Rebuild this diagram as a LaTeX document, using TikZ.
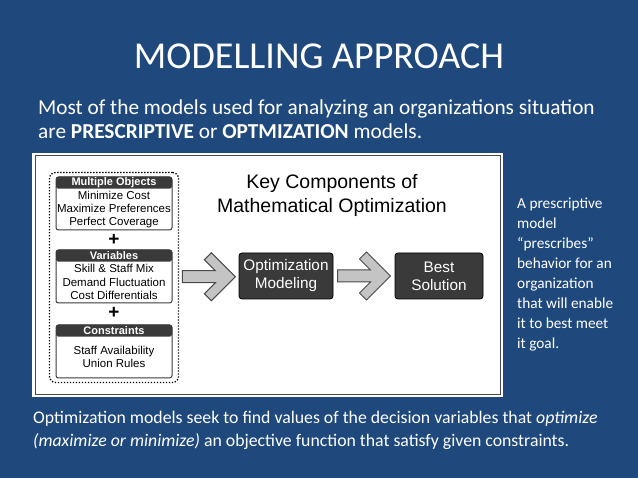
\documentclass[tikz,border=0pt]{standalone}
\usepackage{fontspec}
\setmainfont{Carlito}
\newfontfamily\figfont{Liberation Sans}
\usetikzlibrary{positioning,calc,fit}
\definecolor{slideblue}{HTML}{1F497D}
\definecolor{boxgrey}{HTML}{3A3A3A}
\definecolor{arrowgrey}{HTML}{C4C4C4}
\definecolor{edgegrey}{HTML}{4A4A4A}

\begin{document}
\begin{tikzpicture}[x=1pt, y=-1pt,
  slidetext/.style={text=white, inner sep=0pt, align=left},
  group/.style={rectangle, draw=boxgrey, line width=1pt, rounded corners=2.5pt,
                fill=white, minimum width=116pt, minimum height=53pt, inner sep=0pt},
  grouphead/.style={rectangle, fill=boxgrey, rounded corners=2.5pt,
                    minimum width=116pt, minimum height=12pt, inner sep=0pt,
                    text=white, font=\figfont\bfseries\fontsize{11}{11}\selectfont},
  item/.style={font=\figfont\fontsize{11.5}{13.3}\selectfont, align=center, inner sep=0pt},
  plus/.style={font=\figfont\bfseries\fontsize{19}{19}\selectfont, inner sep=0pt},
  stage/.style={rectangle, fill=boxgrey, draw=black, line width=0.8pt, rounded corners=3pt,
                minimum height=46pt, inner sep=0pt, text=white, align=center,
                font=\figfont\fontsize{15.3}{18}\selectfont},
  chevron/.pic={
    \draw[edgegrey, fill=arrowgrey, line width=1pt, line join=miter]
      (-26.5,-6) -- (6.5,-6) -- (-4.5,-17) -- (2.5,-24) -- (26.5,0)
      -- (2.5,24) -- (-4.5,17) -- (6.5,6) -- (-26.5,6) -- cycle;
  },
]
  % slide
  \fill[slideblue] (0,0) rectangle (638,478);
  \useasboundingbox (0,0) rectangle (638,478);

  \node[slidetext, font=\fontsize{38}{38}\selectfont] (title) at (319,56) {MODELLING APPROACH};
  \node[slidetext, anchor=north west, font=\fontsize{21.3}{24}\selectfont] (intro) at (38,100)
    {Most of the models used for analyzing an organizations situation\\
     are \textbf{PRESCRIPTIVE} or \textbf{OPTMIZATION} models.};

  % picture panel
  \node[rectangle, fill=white, minimum width=471pt, minimum height=244pt, inner sep=0pt,
        anchor=north west] (panel) at (32,153) {};
  \draw[edgegrey, line width=1pt] ([shift={(3,3)}]panel.north west)
    rectangle ([shift={(-3,-3)}]panel.south east);

  % the three groups
  \node[group] (objs) at (114,203.5) {};
  \node[grouphead, anchor=north] (objshead) at (objs.north) {Multiple Objects};
  \node[item] at (114,209.5) {Minimize Cost\\Maximize Preferences\\Perfect Coverage};

  \node[plus, below=4pt of objs] (plusa) {+};

  \node[group] (vars) at (114,276.5) {};
  \node[grouphead, anchor=north] (varshead) at (vars.north) {Variables};
  \node[item] at (114,282) {Skill \& Staff Mix\\Demand Fluctuation\\Cost Differentials};

  \node[plus, below=4pt of vars] (plusb) {+};

  \node[group] (cons) at (114,351.5) {};
  \node[grouphead, anchor=north] (conshead) at (cons.north) {Constraints};
  \node[item] at (114,357) {Staff Availability\\Union Rules};

  \node[rectangle, draw=black, line width=1.3pt, dash pattern=on 1.3pt off 1.7pt,
        rounded corners=6pt, inner xsep=6pt, inner ysep=4pt, fit=(objs)(cons)] (inputs) {};

  % flow
  \node[item, font=\figfont\fontsize{19.5}{24}\selectfont] (head) at (332,195)
    {Key Components of\\Mathematical Optimization};
  \node[stage, minimum width=94pt] (opt) at (286,276) {Optimization\\Modeling};
  \node[stage, minimum width=88pt] (best) at (439,276) {Best\\Solution};

  \pic at ($(inputs.east)!0.5!(opt.west)$) {chevron};
  \pic at ($(opt.east)!0.5!(best.west)$) {chevron};

  % side note
  \node[slidetext, anchor=north west, font=\fontsize{15.3}{19.9}\selectfont] (note) at (517,198)
    {A prescriptive\\model\\“prescribes”\\behavior for an\\organization\\that will enable\\it to best meet\\it goal.};

  \node[slidetext, anchor=north west, font=\fontsize{17.75}{23}\selectfont] (summary) at (33,411)
    {Optimization models seek to find values of the decision variables that \textit{optimize}\\
     \textit{(maximize or minimize)} an objective function that satisfy given constraints.};
\end{tikzpicture}
\end{document}
